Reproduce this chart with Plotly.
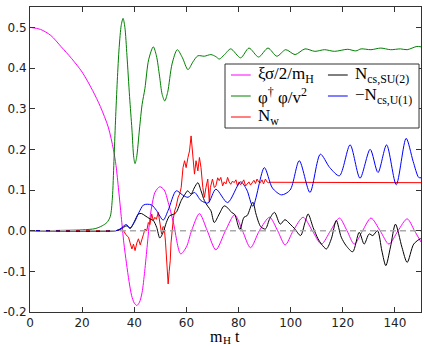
import plotly.graph_objects as go

# ---------------- data ----------------
t_xi = [0, 4, 8, 12, 16, 20, 24, 27, 30, 32, 33, 34, 35, 36, 37, 38, 39, 40, 41, 42, 43, 44, 45, 46, 47, 48,
        49.8, 51.5, 53, 55, 57.8, 60, 62, 65, 68, 71.3, 75, 78.5, 81.5, 84.6, 88, 91.9, 95, 97.9, 101, 104.8,
        108.3, 111.8, 115.3, 118.7, 121.6, 124.4, 127.6, 130.8, 134.3, 137.7, 141.2, 144.7, 147.5, 150]
v_xi = [0.5, 0.495, 0.48, 0.452, 0.423, 0.39, 0.345, 0.305, 0.255, 0.2, 0.16, 0.1, 0.035, -0.03, -0.08, -0.125,
        -0.16, -0.178, -0.184, -0.176, -0.152, -0.1, -0.035, 0.03, 0.07, 0.095,
        0.108, 0.1, 0.07, 0.02, -0.057, -0.04, 0.0, 0.042, 0.0, -0.047, 0.0, 0.039, 0.0, -0.042, 0.0, 0.033, 0.0,
        -0.035, 0.0, 0.033, 0.0, -0.033, 0.0, 0.031, 0.0, -0.033, 0.0, 0.031, 0.0, -0.033, 0.0, 0.029, 0.0, -0.028]

t_phi = [0, 10, 20, 25, 27.7, 29.5, 30.8, 31.6, 32.2, 32.8, 33.5, 34.2, 35, 35.7, 36.4, 37.2, 38.2, 39.1, 39.8,
         40.3, 40.9, 42, 43, 44.1, 45.5, 47.3, 48.5, 49.7, 50.7, 51.7, 52.8, 54.5, 56.5, 58.5, 60.6, 62.5, 64.4,
         66.9, 69.4, 71.3, 72.6, 74.5, 77, 80.8, 84, 87.7, 91.3, 94.7, 98.1, 101.7, 105.5, 109.3, 113, 116.8,
         121.9, 125, 127, 130.8, 134.6, 138.3, 142.1, 144.7, 148.4, 150]
v_phi = [0, 0.0005, 0.002, 0.005, 0.012, 0.02, 0.035, 0.08, 0.17, 0.27, 0.37, 0.45, 0.505, 0.522, 0.5, 0.43,
         0.33, 0.25, 0.18, 0.165, 0.18, 0.25, 0.31, 0.35, 0.42, 0.452, 0.43, 0.38, 0.335, 0.319, 0.34, 0.41,
         0.445, 0.425, 0.396, 0.415, 0.43, 0.429, 0.433, 0.428, 0.422, 0.432, 0.447, 0.425, 0.449, 0.427, 0.449,
         0.429, 0.445, 0.433, 0.447, 0.441, 0.445, 0.441, 0.446, 0.442, 0.447, 0.445, 0.449, 0.445, 0.447,
         0.445, 0.453, 0.452]

t_nw = [0, 33, 34.5, 35.9, 36.8, 37.8, 38.4, 39.1, 39.7, 40.3, 41, 41.6, 42.3, 42.9, 43.5, 44.1, 44.8, 45.4, 46,
        46.7, 47.3, 47.9, 48.5, 49.2, 49.8, 50.5, 51, 51.5, 52, 52.4, 53, 53.4, 53.8, 54.1, 54.5, 55, 55.5, 56.1,
        56.8, 57.4, 58, 58.7, 59.3, 59.9, 60.6, 61.2, 61.8, 62.5, 63.1, 63.7, 64.4, 65, 65.6, 66.3, 66.9, 67.5,
        68.2, 68.8, 69.2, 70, 70.7, 71.3, 72, 72.6, 73.2, 73.9, 74.5, 75.2, 75.8, 76.4, 77, 77.7, 78.3, 79, 79.6,
        80.2, 80.8, 81.4, 82, 82.7, 83.3, 84, 84.6, 85.2, 85.9, 86.5, 87.1, 87.7, 88.4, 89, 89.6, 90.3, 90.9,
        91.5, 92.2, 150]
v_nw = [0, 0, 0.002, 0.0, -0.01, -0.016, -0.03, -0.045, -0.033, -0.049, -0.03, -0.02, -0.035, -0.025, -0.01,
        0.004, 0.0, 0.02, 0.015, 0.041, 0.025, 0.033, 0.028, 0.045, 0.02, -0.008, 0.01, 0.008, -0.03, -0.082,
        -0.131, -0.1, -0.074, -0.03, 0.008, 0.03, 0.049, 0.06, 0.082, 0.09, 0.106, 0.155, 0.172, 0.155, 0.18,
        0.196, 0.233, 0.188, 0.139, 0.172, 0.147, 0.18, 0.155, 0.106, 0.082, 0.106, 0.127, 0.07, 0.106, 0.127,
        0.106, 0.11, 0.13, 0.123, 0.131, 0.11, 0.12, 0.115, 0.131, 0.12, 0.114, 0.122, 0.118, 0.125, 0.11, 0.12,
        0.113, 0.118, 0.125, 0.11, 0.114, 0.12, 0.112, 0.118, 0.124, 0.116, 0.127, 0.12, 0.118, 0.125, 0.115,
        0.127, 0.12, 0.118, 0.119, 0.118]

t_su2 = [0, 33, 34.5, 37.2, 38.4, 40, 41.6, 42.8, 44.1, 46, 47.3, 48.6, 49.8, 51.1, 52.3, 53.6, 55, 56.1, 58,
         59.5, 60.5, 61.8, 63, 64.4, 65.6, 66.9, 68.2, 69.4, 70.7, 72.6, 74.5, 76, 77.3, 78.5, 80.5, 82.1, 83.3,
         85.5, 86.7, 88.5, 90.3, 92, 93.8, 96, 97.8, 99.8, 101.5, 103.8, 105.5, 106.7, 108.6, 110.5, 111.8,
         113.7, 115.6, 117.5, 119.4, 121.3, 123.8, 126.3, 128.2, 130.1, 131.5, 133.3, 135, 136.5, 138.3, 140.2,
         142.7, 144.7, 147.2, 149.7, 150]
v_su2 = [0, 0, 0.003, 0.012, 0.005, 0.022, 0.041, 0.042, 0.037, 0.029, 0.025, 0.008, -0.018, -0.004, 0.02,
         0.037, 0.04, 0.045, 0.074, 0.09, 0.098, 0.09, 0.105, 0.118, 0.098, 0.074, 0.06, 0.049, 0.02, 0.041,
         0.061, 0.055, 0.045, 0.04, 0.003, 0.033, 0.037, 0.07, 0.041, 0.01, 0.004, 0.03, 0.045, 0.016, 0.027,
         0.016, 0.005, -0.012, 0.02, 0.041, 0.008, -0.02, -0.033, -0.045, -0.02, 0.025, -0.016, -0.037, -0.052,
         -0.004, -0.033, -0.008, -0.012, 0.0, -0.05, -0.086, -0.04, 0.016, -0.041, -0.078, -0.033, -0.02, -0.02]

t_u1 = [0, 33, 34.5, 36.9, 38.4, 40, 41.8, 43.5, 45, 46.7, 48.5, 51.1, 53, 56.1, 58.5, 60.6, 63.1, 65.6, 68.3,
        71.3, 75.8, 80.8, 83.2, 85.5, 89.9, 93, 96.5, 99.8, 103.3, 107.4, 111.4, 115, 118.7, 122.8, 126.6,
        130.5, 133.5, 136.8, 140.5, 144.3, 147, 149.1, 150]
v_u1 = [0, 0, 0.004, 0.015, 0.007, 0.02, 0.045, 0.063, 0.065, 0.063, 0.05, 0.026, 0.05, 0.098, 0.088, 0.082,
        0.094, 0.074, 0.068, 0.102, 0.069, 0.12, 0.1, 0.06, 0.155, 0.105, 0.088, 0.1, 0.172, 0.094, 0.188,
        0.155, 0.135, 0.211, 0.129, 0.2, 0.143, 0.211, 0.113, 0.227, 0.17, 0.131, 0.13]

t_zero = [0, 150]
v_zero = [0, 0]

x_ticks = [0, 20, 40, 60, 80, 100, 120, 140]
y_ticks = [-0.2, -0.1, 0.0, 0.1, 0.2, 0.3, 0.4, 0.5]
y_tick_text = ["-0.2", "-0.1", "0.0", "0.1", "0.2", "0.3", "0.4", "0.5"]

series_names = ["ξσ/2/m<sub>H</sub>", "φ<sup>†</sup> φ/v<sup>2</sup>", "N<sub>w</sub>",
                "N<sub>cs,SU(2)</sub>", "−N<sub>cs,U(1)</sub>"]
series_colors = ["#ff00ff", "#008000", "#ff0000", "#000000", "#0000ff"]

# x-axis title pieces: "m", subscript "H", "t"
xtitle_parts = [("m", 16, 215, 336), ("H", 11, 226.5, 340), ("t", 16, 237, 336)]

# ---------------- figure ----------------
W, H = 425, 346
ml, mr, mt, mb = 27, 3, 7, 34
pw, ph = W - ml - mr, H - mt - mb

def px2paper(x, y):
    return (x - ml) / pw, 1 - (y - mt) / ph

SERIF = "Liberation Serif"
fig = go.Figure()

data = [(t_xi, v_xi, "spline"), (t_phi, v_phi, "spline"), (t_nw, v_nw, "linear"),
        (t_su2, v_su2, "spline"), (t_u1, v_u1, "spline")]
for (tx, vy, shp), nm, col in zip(data, series_names, series_colors):
    ln = dict(color=col, width=1, shape=shp)
    if shp == "spline":
        ln["smoothing"] = 0.8
    fig.add_trace(go.Scatter(x=tx, y=vy, mode="lines", line=ln, name=nm, showlegend=False))
fig.add_trace(go.Scatter(x=t_zero, y=v_zero, mode="lines", line=dict(color="#aaaaaa", width=1.5, dash="6px,4px"),
                         showlegend=False))

# legend frame and entries (drawn manually to match the two-column layout)
bx0, by1 = px2paper(224, 64)
bx1, by0 = px2paper(420, 128)
fig.add_shape(type="rect", xref="paper", yref="paper", x0=bx0, x1=bx1, y0=by0, y1=by1,
              line=dict(color="#333333", width=1), fillcolor="white", layer="above")

entry_pos = [(230, 75), (230, 96), (230, 117), (328, 75), (328, 96)]
for (lx, ly), nm, col in zip(entry_pos, series_names, series_colors):
    x0, y0 = px2paper(lx, ly)
    x1, _ = px2paper(lx + 20, ly)
    fig.add_shape(type="line", xref="paper", yref="paper", x0=x0, x1=x1, y0=y0, y1=y0,
                  line=dict(color=col, width=1), layer="above")
    tx, ty = px2paper(lx + 25, ly)
    fig.add_annotation(xref="paper", yref="paper", x=tx, y=ty, text=nm, showarrow=False,
                       xanchor="left", yanchor="middle", font=dict(family=SERIF, size=17, color="black"))

# x-axis title
for txt, fs, px_, py_ in xtitle_parts:
    ax_, ay_ = px2paper(px_, py_)
    fig.add_annotation(xref="paper", yref="paper", x=ax_, y=ay_, text=txt, showarrow=False,
                       xanchor="center", yanchor="middle", borderpad=0,
                       font=dict(family=SERIF, size=fs, color="black"))

fig.update_layout(
    width=W, height=H,
    margin=dict(l=ml, r=mr, t=mt, b=mb),
    paper_bgcolor="white", plot_bgcolor="white",
    xaxis=dict(range=[0, 150], tickvals=x_ticks, ticks="inside", ticklen=5, tickcolor="#333333",
               showline=True, linecolor="#333333", linewidth=1, mirror="ticks", showgrid=False, zeroline=False,
               tickfont=dict(family="DejaVu Sans", size=12, color="#222222")),
    yaxis=dict(range=[-0.2, 0.55], tickvals=y_ticks, ticktext=y_tick_text, ticks="inside", ticklen=5,
               tickcolor="#333333", showline=True, linecolor="#333333", linewidth=1, mirror="ticks",
               showgrid=False, zeroline=False, ticklabelstandoff=0,
               tickfont=dict(family="DejaVu Sans", size=12, color="#222222")),
)

fig.write_html("out.html")
